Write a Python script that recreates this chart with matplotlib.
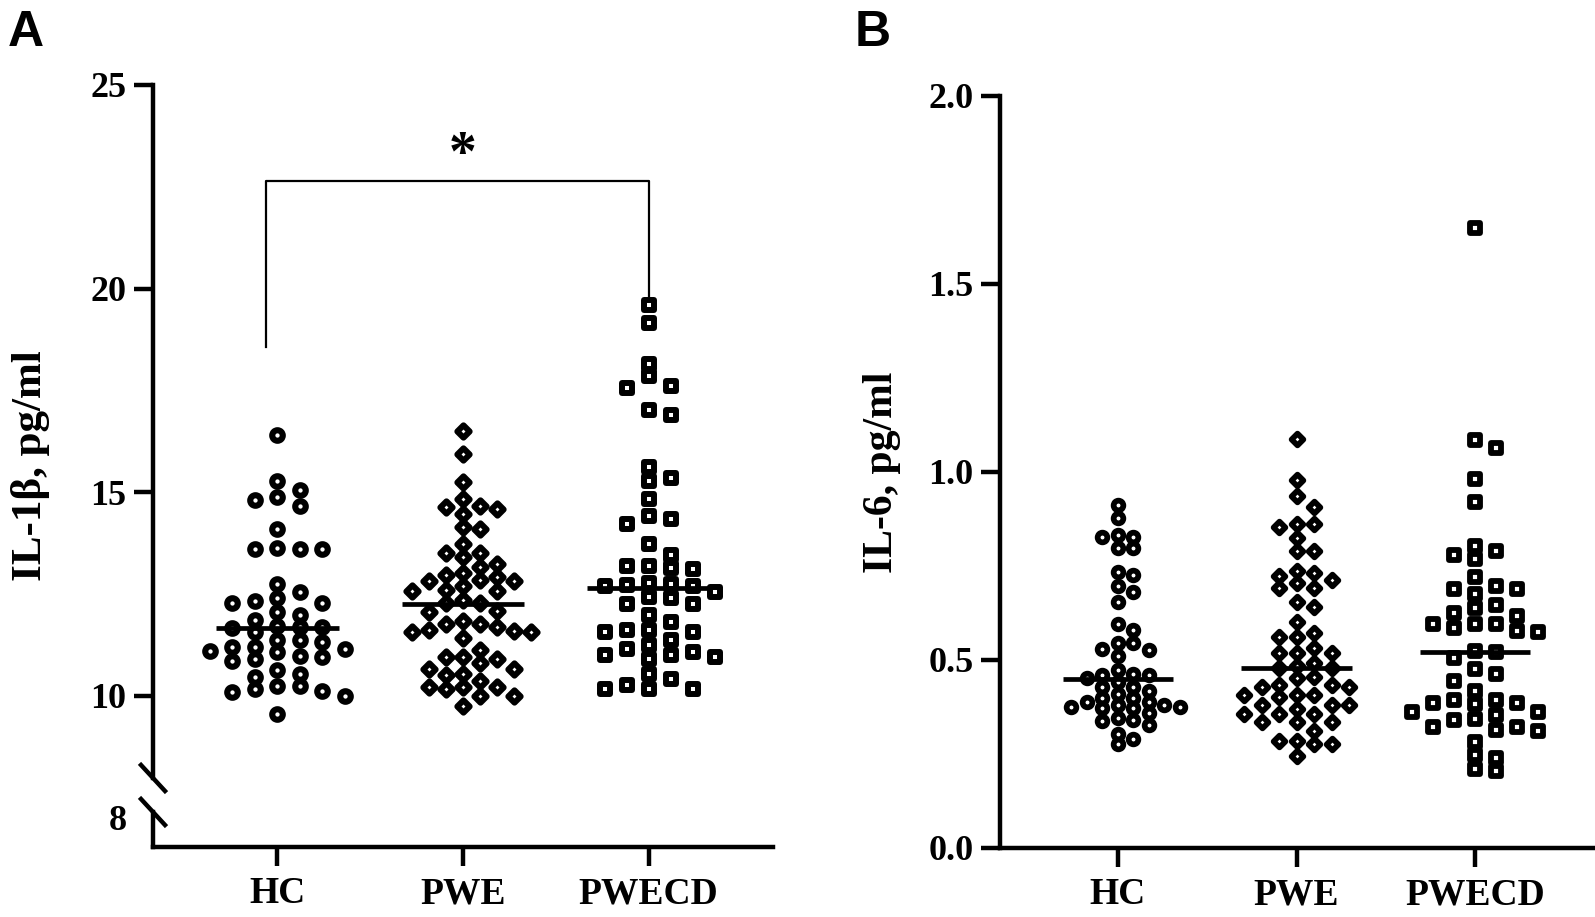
import numpy as np
import matplotlib
matplotlib.use("Agg")
import matplotlib.pyplot as plt
from matplotlib.lines import Line2D

plt.rcParams['font.family'] = ['Liberation Serif', 'DejaVu Serif']
plt.rcParams['font.weight'] = 'bold'

groups = ['HC', 'PWE', 'PWECD']

# IL-1beta, pg/ml (panel A)
hc_a = [16.40, 15.29, 15.05, 14.80, 14.89, 14.67, 14.09, 13.62, 13.60, 13.62, 13.64,
        12.76, 12.56, 12.41, 12.28, 12.32, 12.28, 12.06, 11.99, 11.69, 11.86, 11.57,
        11.71, 11.67, 11.69, 11.38, 11.07, 11.16, 10.87, 11.20, 10.91, 10.64, 11.32,
        10.99, 10.54, 10.25, 10.00, 11.21, 10.95, 11.38, 11.10, 10.47, 10.09, 10.25,
        10.17, 10.13, 9.55]
pwe_a = [16.50, 15.95, 15.26, 14.59, 14.65, 14.84, 14.67, 14.47, 14.15, 14.09, 13.74,
         13.52, 13.52, 13.41, 13.23, 12.91, 13.02, 12.71, 12.86, 12.57, 12.82, 12.57,
         12.98, 12.61, 13.17, 12.82, 12.28, 12.28, 12.35, 12.09, 12.07, 11.83, 11.76,
         11.62, 11.60, 11.58, 11.43, 11.58, 11.76, 11.70, 11.13, 10.96, 10.92, 10.96,
         10.67, 10.67, 10.80, 10.52, 10.55, 10.38, 10.22, 10.18, 10.22, 10.22, 9.75,
         10.01, 10.01]
pwecd_a = [19.60, 19.16, 18.16, 17.85, 17.56, 17.60, 17.02, 16.90, 15.62, 15.29, 15.36,
           14.84, 14.41, 14.35, 14.22, 13.73, 13.47, 13.18, 13.14, 13.20, 13.11, 12.75,
           12.69, 12.73, 12.69, 12.77, 12.44, 12.40, 12.56, 12.27, 12.25, 12.00, 11.82,
           11.57, 11.61, 11.57, 11.61, 11.16, 10.96, 11.00, 11.00, 11.24, 10.92, 11.37,
           11.08, 10.55, 10.17, 10.42, 10.17, 10.17, 10.26]
median_a = [11.67, 12.26, 12.64]

# IL-6, pg/ml (panel B)
hc_b = [0.912, 0.878, 0.833, 0.826, 0.826, 0.797, 0.797, 0.727, 0.734, 0.696, 0.682,
        0.653, 0.580, 0.597, 0.545, 0.527, 0.545, 0.511, 0.529, 0.462, 0.459, 0.453,
        0.460, 0.473, 0.442, 0.428, 0.410, 0.399, 0.372, 0.381, 0.374, 0.428, 0.399,
        0.372, 0.345, 0.304, 0.277, 0.417, 0.388, 0.358, 0.327, 0.291, 0.374, 0.340,
        0.381, 0.388, 0.338]
pwe_b = [1.088, 0.978, 0.937, 0.908, 0.863, 0.863, 0.854, 0.825, 0.791, 0.791, 0.732,
         0.705, 0.723, 0.692, 0.737, 0.692, 0.712, 0.654, 0.640, 0.602, 0.573, 0.561,
         0.561, 0.532, 0.519, 0.519, 0.519, 0.480, 0.492, 0.480, 0.483, 0.456, 0.429,
         0.433, 0.451, 0.406, 0.433, 0.406, 0.429, 0.406, 0.402, 0.370, 0.379, 0.379,
         0.379, 0.357, 0.334, 0.334, 0.334, 0.357, 0.312, 0.285, 0.276, 0.285, 0.276,
         0.244, 0.357]
pwecd_b = [1.650, 1.085, 1.065, 0.982, 0.921, 0.778, 0.802, 0.768, 0.790, 0.689, 0.696,
           0.676, 0.646, 0.720, 0.689, 0.625, 0.597, 0.616, 0.576, 0.597, 0.637, 0.597,
           0.586, 0.574, 0.525, 0.520, 0.504, 0.475, 0.444, 0.464, 0.385, 0.342, 0.394,
           0.354, 0.311, 0.383, 0.313, 0.394, 0.363, 0.322, 0.363, 0.322, 0.417, 0.385,
           0.340, 0.282, 0.239, 0.248, 0.205, 0.210]
median_b = [0.45, 0.48, 0.52]

markers = ['o', 'D', 's']
W, H = 1595, 917


def swarm(vals, y_ppu, x_ppu, col_px, row_px):
    # simple column beeswarm in pixel space
    vals = np.asarray(vals, dtype=float)
    ypix = vals * y_ppu
    px, py = [], []
    off = np.zeros(len(vals))
    cands = [0]
    for j in range(1, 25):
        cands += [j, -j]
    for i in np.argsort(-vals):
        for c in cands:
            x = c * col_px
            if all(not (abs(a - x) < col_px * 0.9 and abs(b - ypix[i]) < row_px)
                   for a, b in zip(px, py)):
                break
        px.append(x)
        py.append(ypix[i])
        off[i] = x / x_ppu
    return off


def style_axis(ax):
    for s in ['top', 'right']:
        ax.spines[s].set_visible(False)
    for s in ['left', 'bottom']:
        ax.spines[s].set_linewidth(3.2)
    ax.tick_params(width=3.2, length=14, labelsize=26, pad=5)


def draw_group(ax, i, vals, med, y_ppu, x_ppu, col_px, row_px, size, halfw):
    off = swarm(vals, y_ppu, x_ppu, col_px, row_px)
    ms, mew = size
    ax.scatter(i + off, vals, s=ms ** 2, marker=markers[i], facecolors='white',
               edgecolors='black', linewidths=mew, zorder=3, clip_on=False)
    ax.plot([i - halfw, i + halfw], [med, med], color='black', lw=3.4, zorder=4,
            solid_capstyle='butt')


fig = plt.figure(figsize=(W / 100, H / 100), dpi=100)

def fx(p):
    return p / W

def fy(p):
    return 1 - p / H

# ---- panel A (broken axis) ----
a_left, a_right = 153, 773
a_top, a_break, a_low_top, a_bottom = 85, 778, 812, 847
a_xlim = (-0.67, 2.67)
a_yppu = (696 - 85) / 15.0
a_xppu = (a_right - a_left) / (a_xlim[1] - a_xlim[0])

axA = fig.add_axes([fx(a_left), fy(a_break), fx(a_right - a_left), (a_break - a_top) / H])
axA.set_xlim(a_xlim)
axA.set_ylim(25 - (a_break - a_top) / a_yppu, 25)
style_axis(axA)
axA.spines['bottom'].set_visible(False)
axA.set_xticks([])
axA.set_yticks([10, 15, 20, 25])

axA2 = fig.add_axes([fx(a_left), fy(a_bottom), fx(a_right - a_left), (a_bottom - a_low_top) / H])
axA2.set_xlim(a_xlim)
r = (a_bottom - a_low_top) / a_yppu
axA2.set_ylim(8 - (a_bottom - 817) / a_yppu, 8 - (a_bottom - 817) / a_yppu + r)
style_axis(axA2)
axA2.set_yticks([8])
axA2.tick_params(axis='y', length=0, pad=19)
axA2.set_xticks(range(3))
axA2.set_xticklabels(groups, fontsize=27)
axA2.tick_params(axis='x', pad=7)

sizes_a = [(7.6, 4.4), (6.3, 4.3), (7.4, 4.3)]
cols_a = [22.5, 17.0, 22.0]
rows_a = [11.5, 12.5, 12.5]
for i, vals in enumerate([hc_a, pwe_a, pwecd_a]):
    draw_group(axA, i, vals, median_a[i], a_yppu, a_xppu, cols_a[i], rows_a[i],
               sizes_a[i], 0.33)

# break marks on the left spine
for yc in (a_break, a_low_top):
    fig.add_artist(Line2D([fx(a_left - 12), fx(a_left + 12)], [fy(yc - 13), fy(yc + 13)],
                          color='black', lw=3.2, transform=fig.transFigure))

# significance bracket HC vs PWECD
axA.plot([-0.063, -0.063, 2.0, 2.0], [18.57, 22.64, 22.64, 19.82], color='black',
         lw=1.6, clip_on=False)
axA.text(1.0, 23.25, '*', ha='center', va='center', fontsize=40)

fig.text(fx(31), fy(466), 'IL-1β, pg/ml', rotation=90, ha='center', va='center',
         fontsize=31)
fig.text(fx(8), fy(10), 'A', ha='left', va='top', fontsize=36,
         family='Liberation Sans', weight='bold')

# ---- panel B ----
b_left, b_right = 1000, 1593
b_top, b_bottom = 96, 848
b_xlim = (-0.66, 2.66)
b_yppu = (b_bottom - b_top) / 2.0
b_xppu = (b_right - b_left) / (b_xlim[1] - b_xlim[0])

axB = fig.add_axes([fx(b_left), fy(b_bottom), fx(b_right - b_left), (b_bottom - b_top) / H])
axB.set_xlim(b_xlim)
axB.set_ylim(0, 2.0)
style_axis(axB)
axB.set_yticks([0, 0.5, 1.0, 1.5, 2.0])
axB.set_yticklabels(['%.1f' % t for t in [0, 0.5, 1.0, 1.5, 2.0]])
axB.set_xticks(range(3))
axB.set_xticklabels(groups, fontsize=27)
axB.tick_params(axis='x', pad=7)

sizes_b = [(7.0, 4.1), (6.0, 4.1), (7.2, 4.2)]
cols_b = [15.5, 17.5, 21.0]
rows_b = [9.5, 11.5, 12.5]
for i, vals in enumerate([hc_b, pwe_b, pwecd_b]):
    draw_group(axB, i, vals, median_b[i], b_yppu, b_xppu, cols_b[i], rows_b[i],
               sizes_b[i], 0.31)

fig.text(fx(882), fy(472), 'IL-6, pg/ml', rotation=90, ha='center', va='center',
         fontsize=30)
fig.text(fx(855), fy(10), 'B', ha='left', va='top', fontsize=36,
         family='Liberation Sans', weight='bold')

fig.savefig('out.png', dpi=100)
